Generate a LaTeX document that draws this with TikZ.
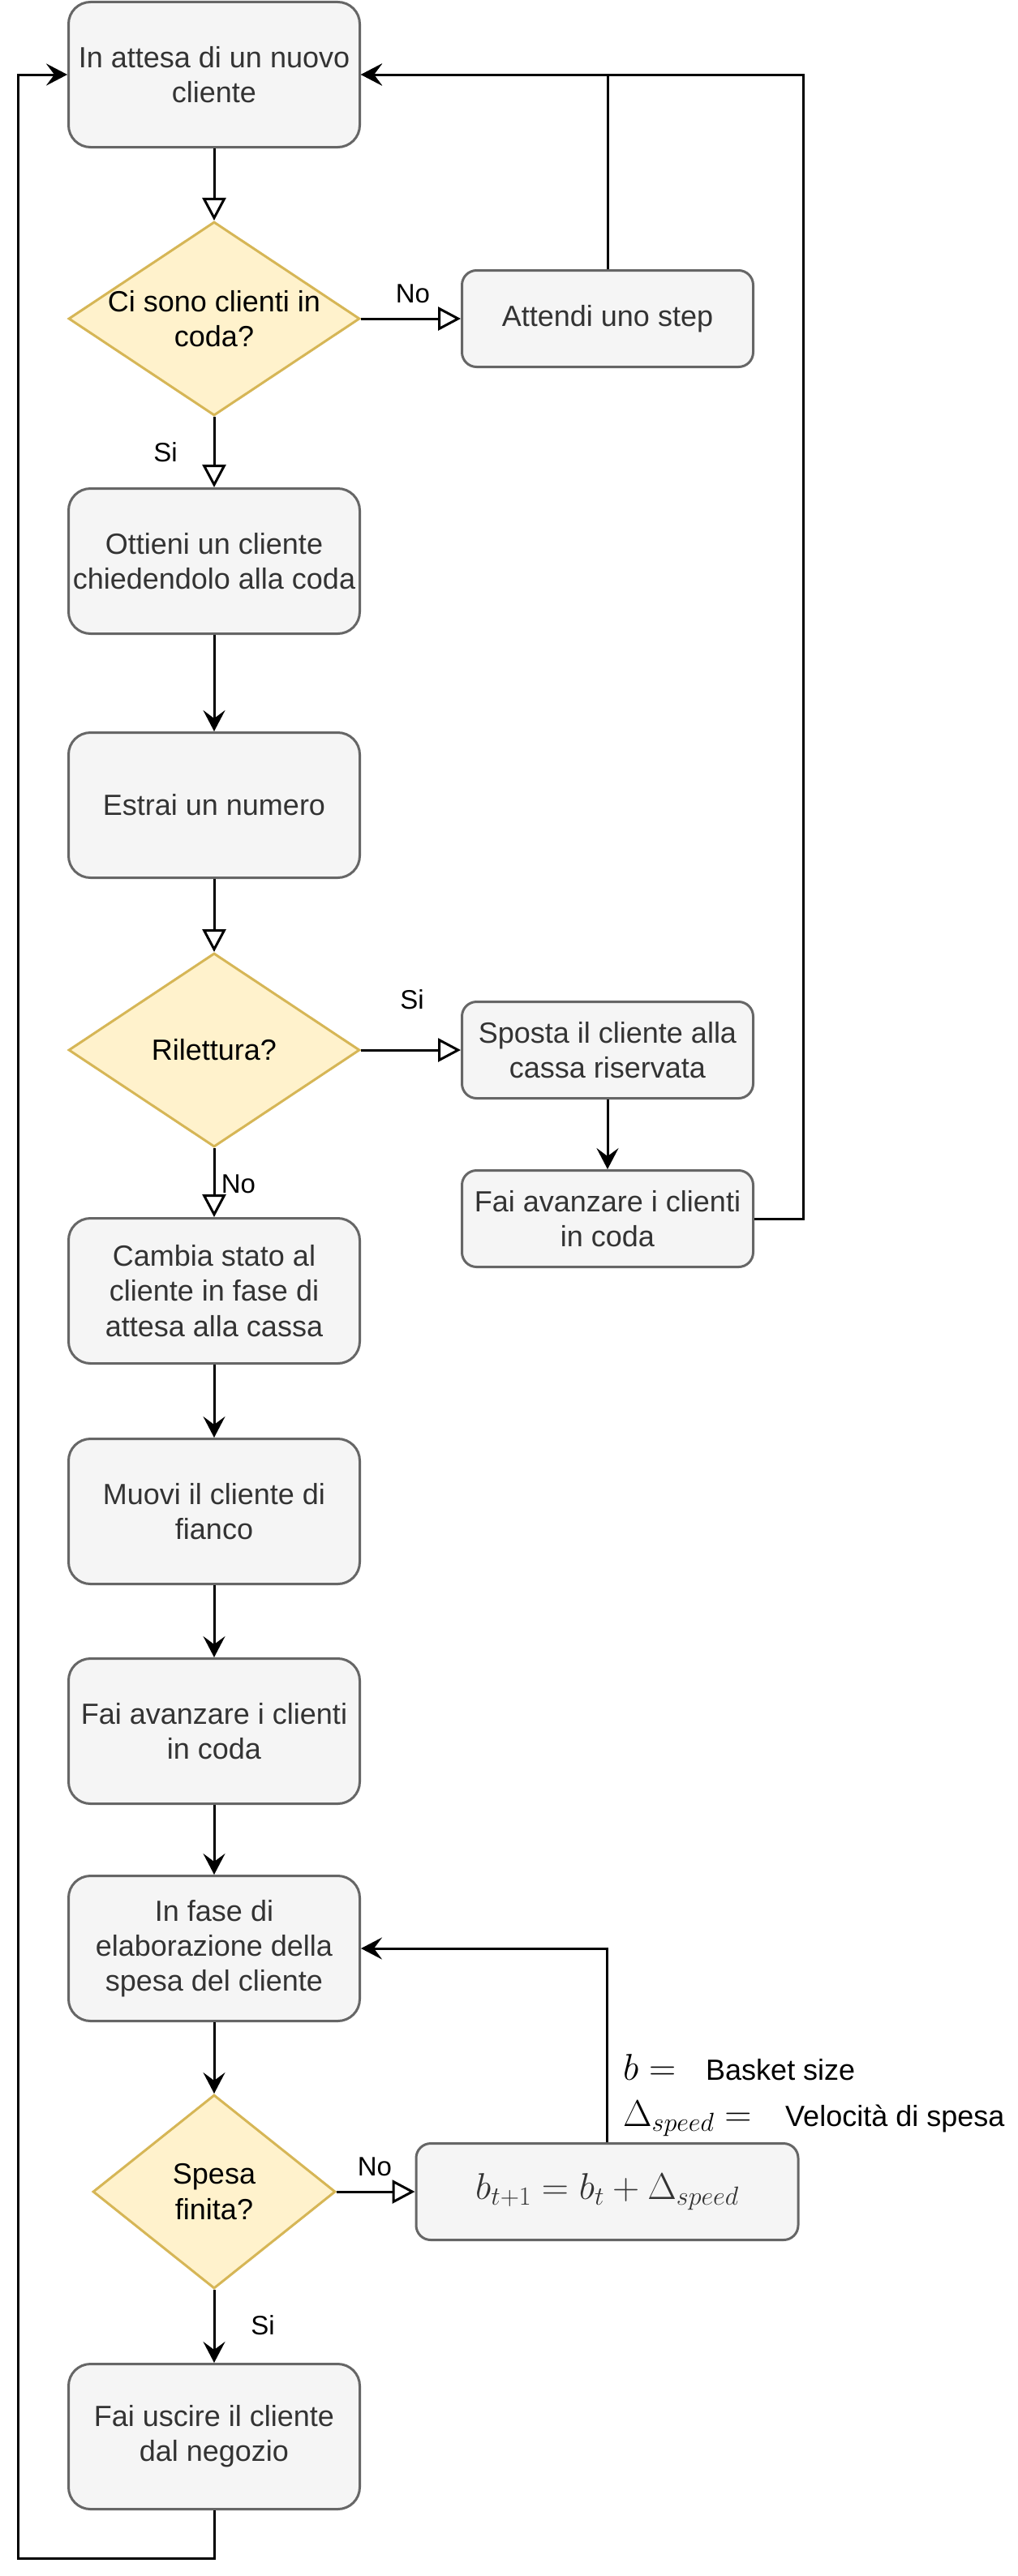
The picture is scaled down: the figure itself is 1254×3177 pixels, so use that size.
\documentclass[tikz,border=0pt]{standalone}
\usepackage{fix-cm}
\usepackage[no-math]{fontspec}
\newfontfamily\arial{Liberation Sans}
\usetikzlibrary{arrows.meta,shapes.geometric}
\definecolor{boxfill}{HTML}{F5F5F5}
\definecolor{boxline}{HTML}{666666}
\definecolor{boxtext}{HTML}{333333}
\definecolor{decfill}{HTML}{FFF2CC}
\definecolor{decline}{HTML}{D6B656}
\begin{document}
\begin{tikzpicture}[x=1pt,y=-1pt,
 proc/.style={rectangle, rounded corners=27pt, draw=boxline, fill=boxfill, line width=3pt, text=boxtext, font=\arial\fontsize{36}{43.2}\selectfont, align=center, inner sep=0pt, minimum width=359pt, minimum height=179pt},
 procs/.style={proc, rounded corners=18pt, minimum height=119pt},
 decision/.style={diamond, draw=decline, fill=decfill, line width=3pt, inner sep=0pt, minimum width=359pt, minimum height=239pt},
 dlab/.style={font=\arial\fontsize{36}{43.2}\selectfont, align=center, text=black, inner sep=0pt},
 elab/.style={font=\arial\fontsize{33}{39.6}\selectfont, text=black, inner sep=0pt},
 tlab/.style={font=\arial\fontsize{36}{43.2}\selectfont, text=black, inner sep=0pt, anchor=base west},
 mathlab/.style={font=\fontsize{46}{54}\selectfont, text=black, inner sep=0pt, anchor=base west},
 flow/.style={line width=3pt, draw=black},
 openarr/.style={flow, -{Triangle[open, length=28pt, width=29pt]}},
 fillarr/.style={flow, -{Stealth[length=26pt, width=27pt, inset=10pt]}},
]
\useasboundingbox (0,0) rectangle (1254,3177);

\node[proc] (b1) at (264,92) {In attesa di un nuovo\\cliente};
\node[decision, label={[dlab]center:Ci sono clienti in\\coda?}] (d1) at (264,393) {};
\node[procs] (att) at (749,393) {Attendi uno step};
\node[proc] (ott) at (264,692) {Ottieni un cliente\\chiedendolo alla coda};
\node[proc] (est) at (264,993) {Estrai un numero};
\node[decision, label={[dlab]center:Rilettura?}] (d2) at (264,1295) {};
\node[procs] (spo) at (749,1295) {Sposta il cliente alla\\cassa riservata};
\node[procs] (fair) at (749,1503) {Fai avanzare i clienti\\in coda};
\node[proc] (cam) at (264,1592) {Cambia stato al\\cliente in fase di\\attesa alla cassa};
\node[proc] (muo) at (264,1864) {Muovi il cliente di\\fianco};
\node[proc] (fail) at (264,2135) {Fai avanzare i clienti\\in coda};
\node[proc] (inf) at (264,2403) {In fase di\\elaborazione della\\spesa del cliente};
\node[decision, minimum width=299pt, label={[dlab]center:Spesa\\finita?}] (d3) at (264,2703) {};
\node[procs, minimum width=471pt] (form) at (748.5,2703) {\fontsize{46}{54}\selectfont $b_{t+1} = b_t + \Delta_{speed}$};
\node[proc] (usc) at (264,3005) {Fai uscire il cliente\\dal negozio};

\node[mathlab] (lb) at (768,2565) {$b =$};
\node[tlab] (lbt) at (870,2565) {Basket size};
\node[mathlab] (ld) at (768,2622) {$\Delta_{speed} =$};
\node[tlab] (ldt) at (968,2622) {Velocità di spesa};

\node[elab] (no1) at (509,362) {No};
\node[elab] (si1) at (204,558) {Si};
\node[elab] (si2) at (508,1233) {Si};
\node[elab] (no2) at (294,1460) {No};
\node[elab] (no3) at (462,2672) {No};
\node[elab] (si3) at (324,2868) {Si};

\coordinate (rtop) at (990,92);
\coordinate (bmid) at (264,3155);
\coordinate (bleft) at (22,3155);

\draw[openarr] (b1) -- (d1);
\draw[openarr] (d1) -- (att);
\draw[fillarr] (att.north) |- (b1.east);
\draw[fillarr] (fair.east) -| (rtop) -- (b1.east);
\draw[openarr] (d1) -- (ott);
\draw[fillarr] (ott) -- (est);
\draw[openarr] (est) -- (d2);
\draw[openarr] (d2) -- (spo);
\draw[fillarr] (spo) -- (fair);
\draw[openarr] (d2) -- (cam);
\draw[fillarr] (cam) -- (muo);
\draw[fillarr] (muo) -- (fail);
\draw[fillarr] (fail) -- (inf);
\draw[fillarr] (inf) -- (d3);
\draw[openarr] (d3) -- (form);
\draw[fillarr] (form.north) |- (inf.east);
\draw[fillarr] (d3) -- (usc);
\draw[fillarr] (usc.south) -- (bmid) -- (bleft) |- (b1.west);
\end{tikzpicture}
\end{document}
